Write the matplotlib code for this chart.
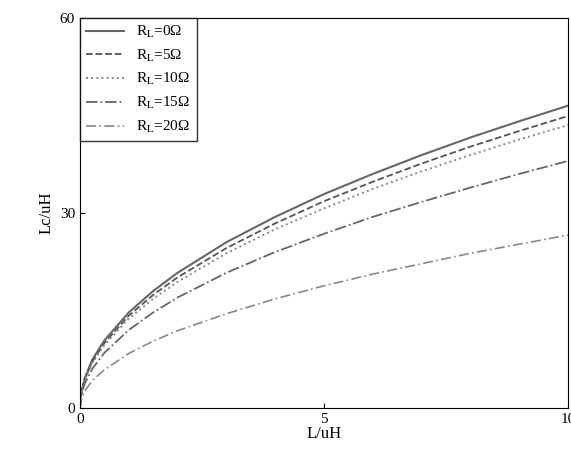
import matplotlib
matplotlib.use("Agg")
import matplotlib.pyplot as plt
from matplotlib.ticker import MultipleLocator

plt.rcParams['font.family'] = ['Liberation Serif', 'DejaVu Serif']
plt.rcParams['mathtext.fontset'] = 'stix'

x = [0, 0.03, 0.1, 0.25, 0.5, 1, 1.5, 2, 3, 4, 5, 6, 7, 8, 9, 10]
rl0 = [0, 2.5, 4.6, 7.4, 10.4, 14.7, 18.0, 20.8, 25.5, 29.4, 32.9, 36.0, 38.9, 41.6, 44.1, 46.5]
rl5 = [0, 2.4, 4.5, 7.1, 10.0, 14.2, 17.4, 20.1, 24.6, 28.4, 31.8, 34.8, 37.6, 40.2, 42.6, 44.9]
rl10 = [0, 2.4, 4.35, 6.9, 9.7, 13.75, 16.8, 19.4, 23.8, 27.5, 30.7, 33.7, 36.4, 38.9, 41.3, 43.5]
rl15 = [0, 2.1, 3.8, 6.0, 8.5, 12.0, 14.7, 17.0, 20.8, 24.0, 26.8, 29.4, 31.7, 33.9, 36.0, 38.0]
rl20 = [0, 1.45, 2.65, 4.2, 5.9, 8.4, 10.3, 11.9, 14.5, 16.8, 18.8, 20.6, 22.2, 23.8, 25.2, 26.6]
labels = ['0', '5', '10', '15', '20']

fig = plt.figure(figsize=(5.71, 4.68), dpi=100)
ax = fig.add_axes([0.14, 0.128, 0.855, 0.834])
styles = [('-', '#666666', 1.5), ('--', '#555555', 1.3), (':', '#888888', 1.4),
          ('-.', '#666666', 1.3), ((0, (6, 2, 1, 2)), '#888888', 1.2)]
for ys, lab, (ls, c, lw) in zip([rl0, rl5, rl10, rl15, rl20], labels, styles):
    ax.plot(x, ys, linestyle=ls, color=c, lw=lw, label=r'R$_{\rm L}$=' + lab + 'Ω')
ax.set_xlim(0, 10)
ax.set_ylim(0, 60)
ax.xaxis.set_major_locator(MultipleLocator(5))
ax.yaxis.set_major_locator(MultipleLocator(30))
ax.tick_params(which='both', direction='in', labelsize=11)
ax.set_xlabel('L/uH', fontsize=12, labelpad=0)
ax.set_ylabel('Lc/uH', fontsize=12)
ax.legend(loc='upper left', fontsize=11, frameon=True, fancybox=False,
          edgecolor='black', handlelength=2.5, borderaxespad=0)
fig.savefig('out.png', dpi=100)
